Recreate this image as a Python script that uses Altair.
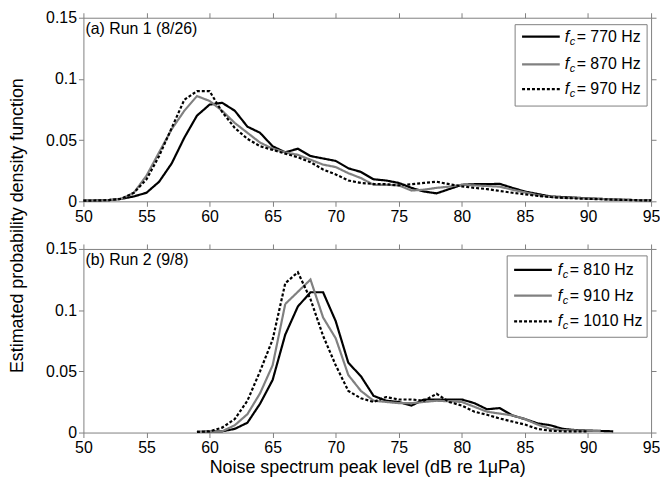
import altair as alt
import pandas as pd

# ---------------- data ----------------
levels1 = list(range(50, 96))
freqs1 = [770, 870, 970]
run1_770 = [0.0005, 0.0007, 0.001, 0.002, 0.004, 0.007, 0.016, 0.031, 0.052, 0.070,
            0.079, 0.0805, 0.074, 0.061, 0.056, 0.045, 0.040, 0.043, 0.037, 0.035,
            0.033, 0.027, 0.024, 0.018, 0.017, 0.015, 0.011, 0.008, 0.0065, 0.010,
            0.0135, 0.014, 0.014, 0.0143, 0.011, 0.008, 0.006, 0.004, 0.0035, 0.003,
            0.0024, 0.002, 0.0015, 0.0012, 0.001, 0.0008]
run1_870 = [0.0005, 0.0007, 0.001, 0.002, 0.007, 0.021, 0.040, 0.059, 0.074, 0.086,
            0.082, 0.074, 0.064, 0.056, 0.048, 0.043, 0.040, 0.038, 0.034, 0.030,
            0.028, 0.023, 0.019, 0.0135, 0.0135, 0.013, 0.0088, 0.0095, 0.011, 0.012,
            0.0135, 0.013, 0.0125, 0.012, 0.0095, 0.0073, 0.005, 0.0036, 0.003, 0.0027,
            0.0024, 0.002, 0.0015, 0.0012, 0.001, 0.0008]
run1_970 = [0.0005, 0.0007, 0.001, 0.002, 0.007, 0.018, 0.037, 0.060, 0.083, 0.090,
            0.090, 0.073, 0.060, 0.051, 0.045, 0.042, 0.039, 0.036, 0.032, 0.026,
            0.022, 0.017, 0.015, 0.0142, 0.014, 0.013, 0.014, 0.015, 0.016, 0.014,
            0.0122, 0.011, 0.010, 0.0085, 0.007, 0.0057, 0.0045, 0.0035, 0.0028, 0.0024,
            0.002, 0.0017, 0.0014, 0.0011, 0.0009, 0.0007]

freqs2 = [810, 910, 1010]
levels2_810 = list(range(59, 93))
run2_810 = [0.0005, 0.0008, 0.001, 0.003, 0.008, 0.0235, 0.043, 0.080, 0.103, 0.1146,
            0.1146, 0.091, 0.057, 0.046, 0.030, 0.026, 0.025, 0.022, 0.027, 0.027,
            0.027, 0.027, 0.024, 0.019, 0.020, 0.014, 0.011, 0.0075, 0.006, 0.003,
            0.002, 0.0016, 0.0013, 0.001]
levels2_910 = list(range(59, 92))
run2_910 = [0.0005, 0.0008, 0.001, 0.006, 0.015, 0.032, 0.055, 0.105, 0.115, 0.125,
            0.094, 0.077, 0.047, 0.034, 0.026, 0.025, 0.024, 0.024, 0.025, 0.026,
            0.0255, 0.025, 0.021, 0.017, 0.0155, 0.014, 0.011, 0.0065, 0.003, 0.002,
            0.0017, 0.0016, 0.0012]
levels2_1010 = list(range(59, 91))
run2_1010 = [0.0005, 0.001, 0.004, 0.011, 0.026, 0.050, 0.076, 0.122, 0.131, 0.109,
             0.079, 0.055, 0.034, 0.028, 0.025, 0.029, 0.027, 0.027, 0.026, 0.0316,
             0.025, 0.022, 0.017, 0.0145, 0.0115, 0.009, 0.0065, 0.003, 0.0015, 0.001,
             0.001, 0.001]

x_ticks = [50, 55, 60, 65, 70, 75, 80, 85, 90, 95]
y_ticks = [0, 0.05, 0.1, 0.15]

FONT = "Liberation Sans"
GRAY = "#808080"
W, H = 572, 185
colors = ["#000000", GRAY, "#000000"]
dashes = [[1, 0], [1, 0], [3, 2]]


def panel(series, freqs, tag, xtitle, ytitle, leg):
    rows = []
    labels = [f"fc = {f} Hz" for f in freqs]
    for lab, (lv, vals) in zip(labels, series):
        for a, b in zip(lv, vals):
            rows.append({"level": a, "pdf": b, "series": lab})
    df = pd.DataFrame(rows)
    xs = alt.Scale(domain=[50, 95], nice=False)
    ys = alt.Scale(domain=[0, 0.15], nice=False)

    xaxis_kw = dict(values=x_ticks, title=xtitle, titleFontSize=18, titlePadding=3,
                    labelFlush=False, labelOverlap=False)
    yaxis_kw = dict(values=y_ticks, labelExpr="format(datum.value, '.2~f')",
                    labelFlush=False, labelOverlap=False)
    if ytitle:
        yaxis_kw.update(title=ytitle, titleAngle=270, titleX=-66, titleY=209,
                        titleAlign="center", titleBaseline="middle", titleFontSize=18)
    else:
        yaxis_kw.update(title=None)

    lines = alt.Chart(df).mark_line(strokeWidth=2.2).encode(
        x=alt.X("level:Q", scale=xs, axis=alt.Axis(**xaxis_kw)),
        y=alt.Y("pdf:Q", scale=ys, axis=alt.Axis(**yaxis_kw)),
        color=alt.Color("series:N", scale=alt.Scale(domain=labels, range=colors), legend=None),
        strokeDash=alt.StrokeDash("series:N", scale=alt.Scale(domain=labels, range=dashes), legend=None),
        detail="series:N",
    )
    mirror = alt.Chart(df).mark_line(opacity=0).encode(
        x=alt.X("level:Q", scale=xs, axis=alt.Axis(values=x_ticks, orient="top", labels=False, title=None)),
        y=alt.Y("pdf:Q", scale=ys, axis=alt.Axis(values=y_ticks, orient="right", labels=False, title=None)),
    )

    dummy = pd.DataFrame({"k": [0]})
    bx0, bx1, by0, by1, lx0, lx1, fx, ey = leg
    layers = [lines, mirror]
    layers.append(alt.Chart(dummy).mark_rect(fill="white", stroke=GRAY, strokeWidth=1).encode(
        x=alt.value(bx0), x2=alt.value(bx1), y=alt.value(by0), y2=alt.value(by1)))
    for i, f in enumerate(freqs):
        layers.append(alt.Chart(dummy).mark_rule(color=colors[i], strokeWidth=2.2, strokeDash=dashes[i]).encode(
            x=alt.value(lx0), x2=alt.value(lx1), y=alt.value(ey[i])))
        layers.append(alt.Chart(dummy).mark_text(font=FONT, fontSize=16, fontStyle="italic", align="left",
                                                 baseline="middle", color="black").encode(
            x=alt.value(fx), y=alt.value(ey[i]), text=alt.value("f")))
        layers.append(alt.Chart(dummy).mark_text(font=FONT, fontSize=11, fontStyle="italic", align="left",
                                                 baseline="middle", color="black").encode(
            x=alt.value(fx + 5), y=alt.value(ey[i] + 5), text=alt.value("c")))
        layers.append(alt.Chart(dummy).mark_text(font=FONT, fontSize=16, align="left",
                                                 baseline="middle", color="black").encode(
            x=alt.value(fx + 12), y=alt.value(ey[i]), text=alt.value(f"= {f} Hz")))
    layers.append(alt.Chart(dummy).mark_text(font=FONT, fontSize=16, align="left", baseline="top",
                                             color="black").encode(
        x=alt.value(2), y=alt.value(3), text=alt.value(tag)))

    return alt.layer(*layers).resolve_axis(x="independent", y="independent").properties(width=W, height=H)


p1 = panel([(levels1, run1_770), (levels1, run1_870), (levels1, run1_970)], freqs1,
           "(a) Run 1 (8/26)", None, "Estimated probability density function",
           (435, 568, 7, 89, 442, 480, 485, [19, 47, 72]))
p2 = panel([(levels2_810, run2_810), (levels2_910, run2_910), (levels2_1010, run2_1010)], freqs2,
           "(b) Run 2 (9/8)", "Noise spectrum peak level (dB re 1\u03bcPa)", None,
           (427, 568, 7, 89, 434, 472, 478, [21, 47, 73]))

chart = alt.vconcat(p1, p2, spacing=48, bounds="flush").properties(
    padding={"left": 0, "top": 0, "right": 0, "bottom": 0}
).configure_axis(
    domainColor=GRAY, tickColor=GRAY, tickSize=5, grid=False,
    labelFont=FONT, labelFontSize=16, labelColor="black", labelPadding=2,
    titleFont=FONT, titleColor="black", titleFontWeight="normal",
).configure_view(strokeWidth=0)

chart.save("out.html", embed_options={"renderer": "svg", "actions": False})
